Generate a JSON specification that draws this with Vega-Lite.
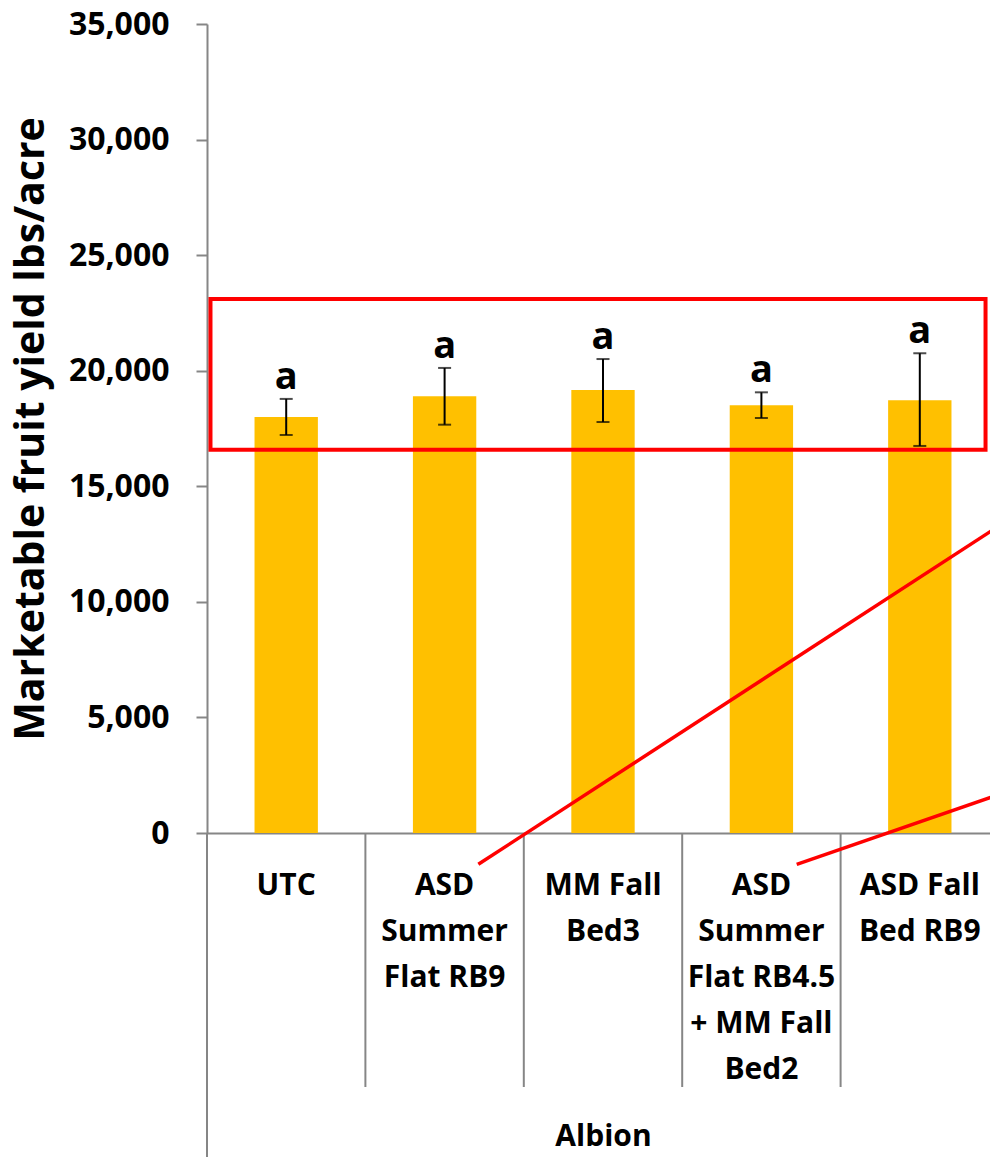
{
  "$schema": "https://vega.github.io/schema/vega-lite/v6.json",
  "width": 783,
  "height": 809,
  "autosize": {"type": "none"},
  "padding": {"left": 207, "top": 24, "right": 0, "bottom": 324},
  "background": "white",
  "config": {"view": {"stroke": null}, "font": "Open Sans"},
  "datasets": {
    "yields": [
      {"treatment": "UTC", "yield": 18000, "lo": 17220, "hi": 18780, "letter": "a"},
      {"treatment": "ASD\nSummer\nFlat RB9", "yield": 18900, "lo": 17665, "hi": 20120, "letter": "a"},
      {"treatment": "MM Fall\nBed3", "yield": 19165, "lo": 17780, "hi": 20505, "letter": "a"},
      {"treatment": "ASD\nSummer\nFlat RB4.5\n+ MM Fall\nBed2", "yield": 18505, "lo": 17955, "hi": 19065, "letter": "a"},
      {"treatment": "ASD Fall\nBed RB9", "yield": 18720, "lo": 16745, "hi": 20755, "letter": "a"}
    ],
    "outline": [{"x0": 0.022, "x1": 4.915, "y0": 16583, "y1": 23103}],
    "leaders": [
      {"x0": 1.713, "y0": -1354, "x1": 5, "y1": 13286},
      {"x0": 3.723, "y0": -1354, "x1": 5, "y1": 1661}
    ],
    "separators": [
      {"x0": 0, "y0": 0, "y1": -14100},
      {"x0": 1, "y0": 0, "y1": -10990},
      {"x0": 2, "y0": 0, "y1": -10990},
      {"x0": 3, "y0": 0, "y1": -10990},
      {"x0": 4, "y0": 0, "y1": -10990},
      {"x0": 5, "y0": 0, "y1": -10990}
    ]
  },
  "layer": [
    {
      "data": {"name": "yields"},
      "encoding": {
        "x": {
          "field": "treatment",
          "type": "nominal",
          "sort": null,
          "title": "Albion",
          "scale": {"range": [0, 792], "paddingInner": 0.6, "paddingOuter": 0.3},
          "axis": {
            "labelAngle": 0,
            "labelExpr": "split(datum.value, '\\n')",
            "labelFont": "Open Sans",
            "labelFontSize": 30,
            "labelFontWeight": "bold",
            "labelColor": "black",
            "labelLineHeight": 46,
            "labelBaseline": "top",
            "labelPadding": 37,
            "labelLimit": 400,
            "labelOverlap": false,
            "domainColor": "#868686",
            "domainWidth": 2,
            "ticks": false,
            "tickSize": 0,
            "titleFont": "Open Sans",
            "titleFontSize": 30,
            "titleFontWeight": "bold",
            "titleColor": "black",
            "titlePadding": 88
          }
        }
      },
      "layer": [
        {
          "mark": {"type": "bar", "color": "#FFC000"},
          "encoding": {
            "y": {
              "field": "yield",
              "type": "quantitative",
              "title": "Marketable fruit yield lbs/acre",
              "scale": {"domain": [0, 35000], "nice": false},
              "axis": {
                "values": [0, 5000, 10000, 15000, 20000, 25000, 30000, 35000],
                "format": ",.0f",
                "grid": false,
                "domainColor": "#868686",
                "domainWidth": 2,
                "tickColor": "#868686",
                "tickWidth": 2,
                "tickSize": 11,
                "labelPadding": 27,
                "labelFont": "Open Sans",
                "labelFontSize": 32,
                "labelFontWeight": "bold",
                "labelColor": "black",
                "titleFont": "Open Sans",
                "titleFontSize": 41,
                "titleFontWeight": "bold",
                "titleColor": "black",
                "titlePadding": 16
              }
            }
          }
        },
        {
          "mark": {"type": "rule", "color": "black", "strokeWidth": 2},
          "encoding": {
            "y": {"field": "lo", "type": "quantitative", "title": "Marketable fruit yield lbs/acre"},
            "y2": {"field": "hi"}
          }
        },
        {
          "mark": {"type": "tick", "color": "black", "thickness": 2},
          "encoding": {
            "y": {"field": "lo", "type": "quantitative", "title": "Marketable fruit yield lbs/acre"},
            "size": {"value": 13}
          }
        },
        {
          "mark": {"type": "tick", "color": "black", "thickness": 2},
          "encoding": {
            "y": {"field": "hi", "type": "quantitative", "title": "Marketable fruit yield lbs/acre"},
            "size": {"value": 13}
          }
        },
        {
          "mark": {"type": "text", "font": "Open Sans", "fontSize": 38, "fontWeight": "bold", "color": "black", "baseline": "alphabetic", "dy": -10},
          "encoding": {
            "y": {"field": "hi", "type": "quantitative", "title": "Marketable fruit yield lbs/acre"},
            "text": {"field": "letter"}
          }
        }
      ]
    },
    {
      "layer": [
        {
          "data": {"name": "separators"},
          "mark": {"type": "rule", "color": "#868686", "strokeWidth": 2},
          "encoding": {
            "x": {"field": "x0", "type": "quantitative", "scale": {"domain": [0, 5], "range": [0, 792], "nice": false, "zero": false}, "axis": null},
            "y": {"field": "y0", "type": "quantitative", "scale": {"domain": [0, 35000], "nice": false, "zero": false}, "axis": null},
            "y2": {"field": "y1"}
          }
        },
        {
          "data": {"name": "outline"},
          "mark": {"type": "rect", "fillOpacity": 0, "stroke": "#FF0000", "strokeWidth": 4},
          "encoding": {
            "x": {"field": "x0", "type": "quantitative", "axis": null},
            "x2": {"field": "x1"},
            "y": {"field": "y0", "type": "quantitative", "axis": null},
            "y2": {"field": "y1"}
          }
        },
        {
          "data": {"name": "leaders"},
          "mark": {"type": "rule", "color": "#FF0000", "strokeWidth": 3.5},
          "encoding": {
            "x": {"field": "x0", "type": "quantitative", "axis": null},
            "x2": {"field": "x1"},
            "y": {"field": "y0", "type": "quantitative", "axis": null},
            "y2": {"field": "y1"}
          }
        }
      ]
    }
  ],
  "resolve": {"scale": {"x": "independent", "y": "independent"}}
}
